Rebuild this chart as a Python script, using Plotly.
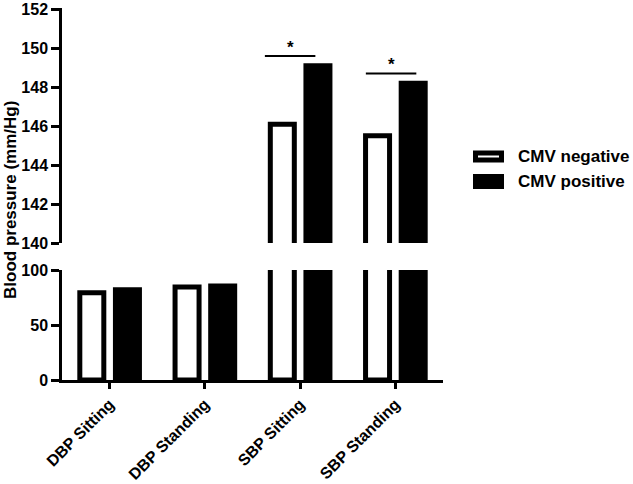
import plotly.graph_objects as go

categories = ["DBP Sitting", "DBP Standing", "SBP Sitting", "SBP Standing"]
cmv_negative = [79.5, 84.7, 146.1, 145.5]
cmv_positive = [82.3, 85.6, 149.1, 148.2]
series_names = ["CMV negative", "CMV positive"]
lower_ticks = [0, 50, 100]
upper_ticks = [140, 142, 144, 146, 148, 150, 152]
sig_x0 = [1.63, 2.69]
sig_x1 = [2.16, 3.22]
sig_y = [149.6, 148.7]
sig_label = ["*", "*"]

W, H = 633, 484
L, R, T, B = 62, 443, 8, 380
FONT = "Liberation Sans"


def px_x(p):
    return (p - L) / (R - L)


def px_y(p):
    return (B - p) / (B - T)


xi = list(range(len(categories)))
bw = 0.252
lw = 5

fig = go.Figure()
for yax in ["y", "y2"]:
    fig.add_trace(go.Bar(
        x=xi, y=cmv_negative, name=series_names[0], yaxis=yax, xaxis="x",
        width=bw, offset=-0.187 - bw / 2,
        marker=dict(color="white", line=dict(color="black", width=lw)),
        showlegend=False,
    ))
    fig.add_trace(go.Bar(
        x=xi, y=cmv_positive, name=series_names[1], yaxis=yax, xaxis="x",
        width=bw, offset=0.187 - bw / 2,
        marker=dict(color="black", line=dict(color="black", width=lw)),
        showlegend=False,
    ))

shapes = []
annotations = []
for x0, x1, yv, lab in zip(sig_x0, sig_x1, sig_y, sig_label):
    shapes.append(dict(type="line", xref="x", yref="y2", x0=x0, x1=x1, y0=yv, y1=yv,
                       line=dict(color="black", width=2)))
    annotations.append(dict(xref="x", yref="y2", x=(x0 + x1) / 2, y=yv, text=lab,
                            showarrow=False, yanchor="bottom", yshift=-3,
                            font=dict(family=FONT, size=17, color="black", weight="bold")))

# legend (custom, to match the wide rounded symbols)
leg_rows = [(156.5, "white"), (181.5, "black")]
for (cy, fill), name in zip(leg_rows, series_names):
    hh = 3.5 if fill == "white" else 5
    shapes.append(dict(type="rect", xref="paper", yref="paper",
                       x0=px_x(475.5), x1=px_x(501.5), y0=px_y(cy - hh), y1=px_y(cy + hh),
                       fillcolor=fill, line=dict(color="black", width=5)))
    annotations.append(dict(xref="paper", yref="paper", x=px_x(516), y=px_y(cy), text=name,
                            showarrow=False, xanchor="left", yanchor="middle",
                            font=dict(family=FONT, size=17, color="black", weight="bold")))

annotations.append(dict(xref="paper", yref="paper", x=px_x(10), y=px_y(200), text="Blood pressure (mm/Hg)",
                        showarrow=False, textangle=-90, xanchor="center", yanchor="middle",
                        font=dict(family=FONT, size=17, color="black", weight="bold")))

tickfont = dict(family=FONT, size=16, color="black", weight="bold")
fig.update_layout(
    width=W, height=H, autosize=False,
    margin=dict(l=L, r=W - R, t=T, b=H - B, pad=0, autoexpand=False),
    plot_bgcolor="white", paper_bgcolor="white",
    barmode="overlay", showlegend=False,
    xaxis=dict(domain=[0, 1], range=[-0.5, 3.5], tickmode="array", tickvals=xi, ticktext=categories,
               tickangle=-45, showline=True, linecolor="black", linewidth=2.5,
               ticks="outside", ticklen=6, tickwidth=2.5, tickcolor="black",
               showgrid=False, zeroline=False, anchor="y", automargin=False,
               ticklabeloverflow="allow",
               tickfont=dict(family=FONT, size=16, color="black", weight="bold")),
    yaxis=dict(domain=[0, px_y(270)], range=[0, 100.3], tickmode="array", tickvals=lower_ticks,
               showline=True, linecolor="black", linewidth=2.5,
               ticks="outside", ticklen=8, tickwidth=2.5, tickcolor="black", automargin=False,
               ticklabeloverflow="allow",
               showgrid=False, zeroline=False, tickfont=tickfont, anchor="x"),
    yaxis2=dict(domain=[px_y(243), 1], range=[140, 152.06], tickmode="array", tickvals=upper_ticks,
                showline=True, linecolor="black", linewidth=2.5,
                ticks="outside", ticklen=8, tickwidth=2.5, tickcolor="black", automargin=False,
                ticklabeloverflow="allow",
                showgrid=False, zeroline=False, tickfont=tickfont, anchor="x"),
    shapes=shapes, annotations=annotations,
)

fig.write_html("out.html", config={"displayModeBar": False},
               post_script="document.body.style.margin='0';document.body.style.overflow='hidden';")
